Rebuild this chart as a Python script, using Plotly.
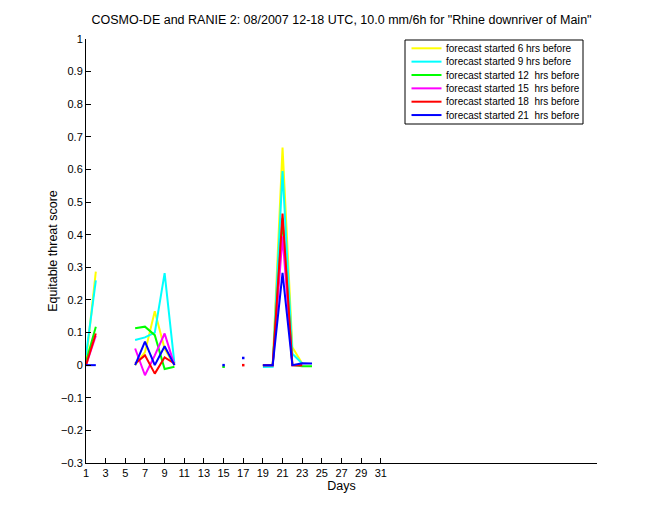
import plotly.graph_objects as go

N = None
days = list(range(1, 32))
x_ticks = list(range(1, 32, 2))
y_ticks = [round(-0.3 + 0.1 * i, 1) for i in range(14)]

names = ["forecast started 6 hrs before", "forecast started 9 hrs before",
         "forecast started 12  hrs before", "forecast started 15  hrs before",
         "forecast started 18  hrs before", "forecast started 21  hrs before"]
colors = ["#FFFF00", "#00FFFF", "#00FF00", "#FF00FF", "#FF0000", "#0000FF"]

#          d1     d2    d3 d4 d5  d6     d7     d8     d9     d10    d11-d18                 d19    d20    d21    d22    d23    d24-d31
yellow  = [0.01, 0.287, N, N, N, 0.0,   0.04,  0.165, 0.05,  0.0,   N, N, N, N, N,     N, N,     N, -0.002, 0.0, 0.667, 0.055, 0.005, N,      N, N, N, N, N, N, N]
cyan    = [0.03, 0.26,  N, N, N, 0.077, 0.085, 0.10,  0.282, 0.005, N, N, N, N, N,     N, N,     N, -0.006, -0.005, 0.595, 0.035, 0.005, N,   N, N, N, N, N, N, N]
green   = [0.01, 0.118, N, N, N, 0.113, 0.118, 0.092, -0.012, -0.005, N, N, N, N, -0.005, N, N,   N, 0.0, 0.0, 0.45, 0.0, -0.003, -0.003,       N, N, N, N, N, N, N]
magenta = [0.0,  0.09,  N, N, N, 0.051, -0.031, 0.03, 0.097, 0.0,   N, N, N, N, N,     N, N,     N, 0.0, 0.0, 0.395, 0.0, 0.0, N,               N, N, N, N, N, N, N]
red     = [0.0,  0.097, N, N, N, 0.005, 0.03, -0.026, 0.024, 0.005, N, N, N, N, N,     N, 0.0,   N, 0.0, 0.0, 0.465, 0.0, 0.0, N,               N, N, N, N, N, N, N]
blue    = [0.0,  0.0,   N, N, N, 0.0,   0.072, 0.0,   0.058, 0.0,   N, N, N, N, 0.0,   N, 0.022, N, 0.0, 0.0, 0.283, 0.0, 0.006, 0.005,         N, N, N, N, N, N, N]

series = [yellow, cyan, green, magenta, red, blue]

W, H = 660, 520
ML, MR, MT, MB = 86, 63, 39, 57
PW, PH = W - ML - MR, H - MT - MB
FONT = "Liberation Sans, Arial, Helvetica, sans-serif"

fig = go.Figure()
for name, col, vals in zip(names, colors, series):
    fig.add_trace(go.Scatter(x=days, y=vals, mode="lines", name=name,
                             line=dict(color=col, width=2), connectgaps=False,
                             showlegend=False))
    # isolated single values (no neighbour) shown as dots
    iso_x, iso_y = [], []
    for i, v in enumerate(vals):
        if v is None:
            continue
        left = vals[i - 1] if i > 0 else None
        right = vals[i + 1] if i < len(vals) - 1 else None
        if left is None and right is None:
            iso_x.append(days[i]); iso_y.append(v)
    if iso_x:
        fig.add_trace(go.Scatter(x=iso_x, y=iso_y, mode="markers", showlegend=False,
                                 marker=dict(color=col, size=2.5, symbol="square",
                                             line=dict(width=0))))

# custom legend (pixel geometry converted to paper coordinates)
def px(xp):
    return (xp - ML) / PW

def py(yp):
    return (H - MB - yp) / PH

LEG_L, LEG_R, LEG_T, LEG_B = 405, 583, 40, 124
ROW0, ROWSTEP = 48.3, 13.35
SAMPLE_X0, SAMPLE_X1, TEXT_X = 411.5, 441.5, 443.5

shapes = [dict(type="rect", xref="paper", yref="paper",
               x0=px(LEG_L), x1=px(LEG_R), y0=py(LEG_B), y1=py(LEG_T),
               line=dict(color="black", width=1), fillcolor="white", layer="above")]
annotations = []
for k, (name, col) in enumerate(zip(names, colors)):
    yy = ROW0 + k * ROWSTEP
    shapes.append(dict(type="line", xref="paper", yref="paper",
                       x0=px(SAMPLE_X0), x1=px(SAMPLE_X1), y0=py(yy), y1=py(yy),
                       line=dict(color=col, width=2), layer="above"))
    annotations.append(dict(xref="paper", yref="paper", x=px(TEXT_X), y=py(yy),
                            text=name, showarrow=False, xanchor="left", yanchor="middle",
                            font=dict(family=FONT, size=10, color="black")))

fig.update_layout(
    width=W, height=H,
    margin=dict(l=ML, r=MR, t=MT, b=MB),
    paper_bgcolor="white", plot_bgcolor="white",
    font=dict(family=FONT, size=11, color="black"),
    title=dict(text='COSMO-DE and RANIE 2: 08/2007 12-18 UTC, 10.0 mm/6h for "Rhine downriver of Main"',
               x=0.5, xref="paper", y=1 - 20 / H, yref="container",
               xanchor="center", yanchor="middle",
               font=dict(family=FONT, size=12.5, color="black")),
    xaxis=dict(range=[1, 53], tickvals=x_ticks, ticktext=[str(t) for t in x_ticks],
               ticks="inside", ticklen=5, tickcolor="black", showline=True,
               linecolor="black", linewidth=1, showgrid=False, zeroline=False,
               mirror=False, tickfont=dict(size=11),
               title=dict(text="Days", font=dict(size=12.5), standoff=3)),
    yaxis=dict(range=[-0.3, 1], tickvals=y_ticks, ticks="inside", ticklen=5,
               tickcolor="black", showline=True, linecolor="black", linewidth=1,
               showgrid=False, zeroline=False, mirror=False, tickfont=dict(size=11),
               title=dict(text="Equitable threat score", font=dict(size=12.5), standoff=0)),
    shapes=shapes, annotations=annotations,
)

fig.write_html("out.html")
